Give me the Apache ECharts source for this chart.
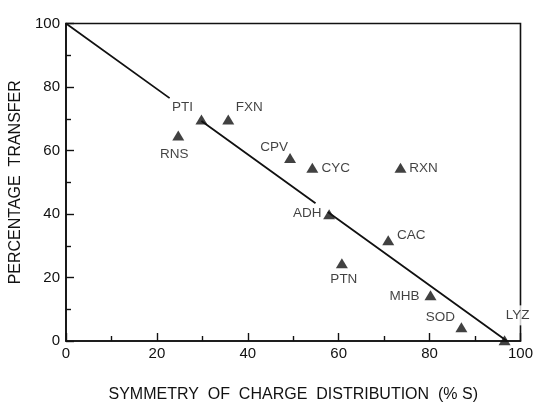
<!DOCTYPE html>
<html>
<head>
<meta charset="utf-8">
<script src="https://cdn.jsdelivr.net/npm/echarts@6/dist/echarts.min.js"></script>
<style>
html,body{margin:0;padding:0;background:#fff;}
#chart{width:536px;height:408px;}
</style>
</head>
<body>
<div id="chart"></div>
<script>
// ---- data ----
var proteins = ['PTI','FXN','RNS','CPV','CYC','RXN','ADH','CAC','PTN','MHB','SOD','LYZ'];
var symmetry = [29.8, 35.7, 24.7, 49.3, 54.2, 73.6, 57.9, 70.9, 60.7, 80.2, 87.0, 96.5];
var transfer = [69.8, 69.8, 64.7, 57.6, 54.6, 54.6, 39.9, 31.7, 24.5, 14.4, 4.3, 0.2];
// fitted line (drawn with breaks, as in the original)
var lineX = [0, 22.8, null, 29.8, 54.9, null, 57.6, 97];
var lineY = [100, 76.5, null, 69.3, 43.4, null, 40.6, 0];
var xTicks = [0, 20, 40, 60, 80, 100];
var yTicks = [0, 20, 40, 60, 80, 100];

// ---- label placement (pixel offsets from marker) ----
var labelOffsets = {
  PTI: [-19, -12], FXN: [21, -12.5], RNS: [-4, 19], CPV: [-16, -11],
  CYC: [23.5, 0.5], RXN: [23, 1], ADH: [-22, -1], CAC: [23, -5],
  PTN: [2, 16], MHB: [-26, 1.5], SOD: [-21, -10], LYZ: [13, -25]
};

var FONT = '"Liberation Sans", Arial, sans-serif';
var INK = '#111';

var pts = proteins.map(function (n, i) {
  var item = {
    name: n,
    value: [symmetry[i], transfer[i]],
    label: { offset: labelOffsets[n] }
  };
  if (n === 'LYZ') {
    item.label.backgroundColor = '#fff';
    item.label.padding = [3, 2];
  }
  return item;
});

var linePts = lineX.map(function (x, i) {
  return x === null ? ['-', '-'] : [x, lineY[i]];
});

var chart = echarts.init(document.getElementById('chart'), null, { renderer: 'canvas' });
chart.setOption({
  animation: false,
  backgroundColor: '#fff',
  grid: {
    left: 64, right: 13, top: 23.5, bottom: 54.5,
    show: true, borderColor: INK, borderWidth: 1.6, backgroundColor: 'transparent'
  },
  xAxis: {
    type: 'value', min: 0, max: 100, interval: 20,
    name: 'SYMMETRY  OF  CHARGE  DISTRIBUTION  (% S)',
    nameLocation: 'middle', nameGap: 46,
    nameTextStyle: { fontFamily: FONT, fontSize: 16, color: INK },
    axisLine: { show: true, lineStyle: { color: INK, width: 1.6 } },
    axisTick: { show: true, inside: true, length: 8, lineStyle: { color: INK, width: 1.4 } },
    minorTick: { show: true, splitNumber: 2, length: 5, lineStyle: { color: INK, width: 1.4 } },
    splitLine: { show: false },
    axisLabel: {
      fontFamily: FONT, fontSize: 15, color: INK, margin: 5,
      formatter: function (v) { return xTicks.indexOf(v) >= 0 ? String(v) : ''; }
    }
  },
  yAxis: {
    type: 'value', min: 0, max: 100, interval: 20,
    name: 'PERCENTAGE  TRANSFER',
    nameLocation: 'middle', nameGap: 42, nameRotate: 90,
    nameTextStyle: { fontFamily: FONT, fontSize: 16, color: INK },
    axisLine: { show: true, lineStyle: { color: INK, width: 1.6 } },
    axisTick: { show: true, inside: true, length: 8, lineStyle: { color: INK, width: 1.4 } },
    minorTick: { show: true, splitNumber: 2, length: 5, lineStyle: { color: INK, width: 1.4 } },
    splitLine: { show: false },
    axisLabel: {
      fontFamily: FONT, fontSize: 15, color: INK, margin: 6,
      formatter: function (v) { return yTicks.indexOf(v) >= 0 ? String(v) : ''; }
    }
  },
  series: [
    {
      type: 'line',
      data: linePts,
      connectNulls: false,
      symbol: 'none',
      lineStyle: { color: INK, width: 1.8 },
      z: 2,
      silent: true
    },
    {
      type: 'scatter',
      data: pts,
      symbol: 'triangle',
      symbolSize: [12, 10],
      itemStyle: { color: INK },
      z: 3,
      label: {
        show: true,
        position: 'inside',
        formatter: '{b}',
        fontFamily: FONT, fontSize: 13.5, color: INK,
        align: 'center', verticalAlign: 'middle'
      }
    }
  ]
});
</script>
</body>
</html>
